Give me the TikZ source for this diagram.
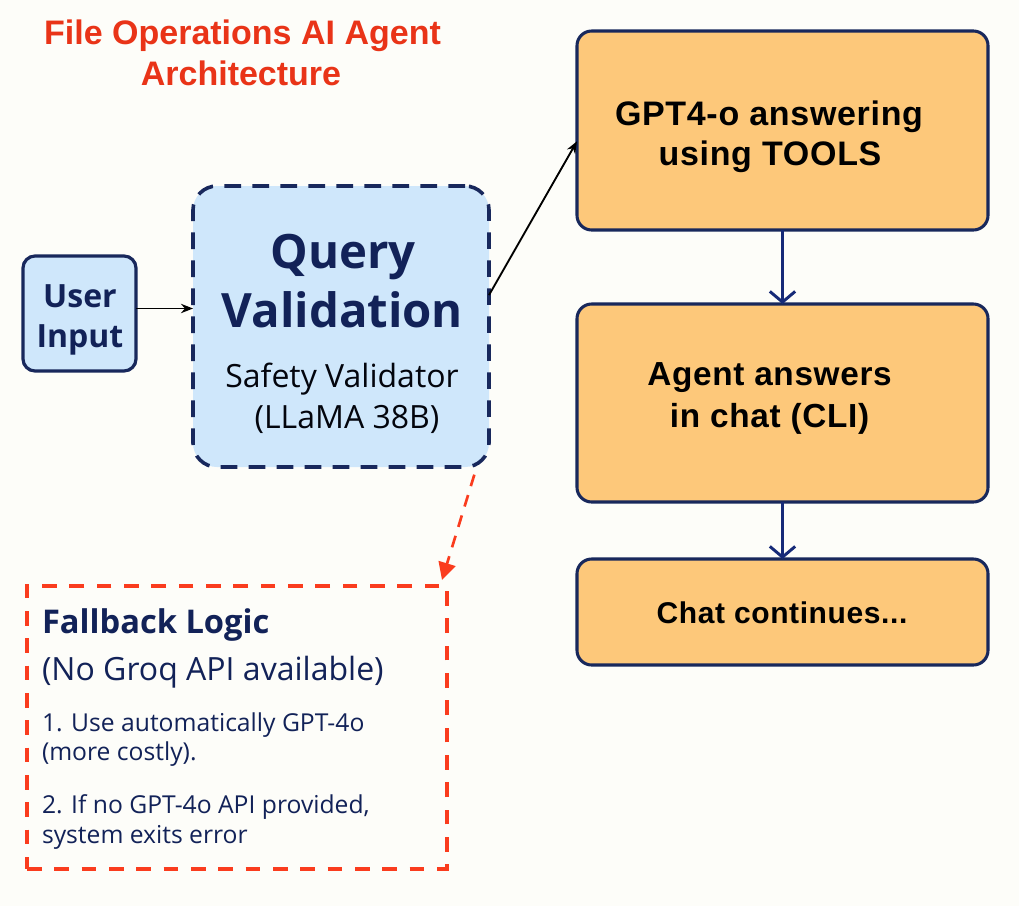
\documentclass[tikz,border=0pt]{standalone}
\usepackage{fontspec}
\setmainfont{Open Sans}
\newfontfamily\arialfont{Liberation Sans}
\newfontfamily\boxfont[LetterSpace=2]{Liberation Sans}
\usetikzlibrary{arrows.meta}
\definecolor{bgc}{RGB}{253,253,249}
\definecolor{navy}{RGB}{18,34,88}
\definecolor{navyline}{RGB}{24,40,92}
\definecolor{lblue}{RGB}{207,231,251}
\definecolor{orng}{RGB}{253,200,122}
\definecolor{ttlred}{RGB}{233,52,24}
\definecolor{dred}{RGB}{250,60,30}
\definecolor{arrblue}{RGB}{22,42,120}
\begin{document}
\begin{tikzpicture}[x=0.75pt,y=-0.75pt,
  every node/.style={inner sep=0pt,outer sep=0pt},
  ubox/.style={draw=navyline,line width=2.4pt,fill=lblue,rounded corners=9pt,minimum width=84.75pt,minimum height=86.25pt},
  qbox/.style={draw=navyline,line width=2.7pt,fill=lblue,rounded corners=18pt,dash pattern=on 12.5pt off 8.5pt,minimum width=222pt,minimum height=210.75pt},
  obox/.style={draw=navyline,line width=2.3pt,fill=orng,rounded corners=11pt,minimum width=308.25pt},
  fbox/.style={draw=dred,line width=2.3pt,dash pattern=on 11pt off 9.5pt,minimum width=315pt,minimum height=212.25pt},
  ttl/.style={anchor=base,text=ttlred,font=\arialfont\bfseries\fontsize{25.5}{30}\selectfont},
  otxt/.style={anchor=base,text=black,font=\boxfont\bfseries\fontsize{25.5}{30}\selectfont},
  ntxt/.style={anchor=base,text=navy},
  ftxt/.style={anchor=base west,text=navy},
  blk/.style={-{Stealth[length=9pt,width=7pt]},line width=1.4pt,black},
  darr/.style={-{Straight Barb[length=8pt,width=19pt,line width=2.2pt]},line width=2.2pt,arrblue},
  rarr/.style={-{Triangle[length=13pt,width=13pt]},line width=2pt,dred,dash pattern=on 9pt off 7pt}
]
\fill[bgc] (0,0) rectangle (1019,906);
\useasboundingbox (0,0) rectangle (1019,906);

% title
\node[ttl] (t1) at (242.5,45) {File Operations AI Agent};
\node[ttl] (t2) at (241,85) {Architecture};

% boxes
\node[ubox] (user) at (79.5,313.5) {};
\node[qbox] (qv) at (341,326.5) {};
\node[obox,minimum height=149.25pt] (gpt) at (782.5,130.5) {};
\node[obox,minimum height=148.5pt] (agent) at (782.5,403) {};
\node[obox,minimum height=79.5pt] (chat) at (782.5,612) {};
\node[fbox] (fb) at (237,727.5) {};

% user text
\node[ntxt,font=\bfseries\fontsize{24}{28}\selectfont] (u1) at (80,307) {User};
\node[ntxt,font=\bfseries\fontsize{24}{28}\selectfont] (u2) at (80,347) {Input};

% query validation text
\node[ntxt,font=\bfseries\fontsize{35.5}{42}\selectfont] (q1) at (343,268) {Query};
\node[ntxt,font=\bfseries\fontsize{35.5}{42}\selectfont] (q2) at (342.5,327) {Validation};
\node[ntxt,font=\fontsize{24}{28}\selectfont,text=black!85!navy] (q3) at (342,387) {Safety Validator};
\node[ntxt,font=\fontsize{24}{28}\selectfont,text=black!85!navy] (q4) at (347,428) {(LLaMA 38B)};

% orange texts
\node[otxt] (g1) at (769,125) {GPT4-o answering};
\node[otxt] (g2) at (770,165) {using TOOLS};
\node[otxt,font=\boxfont\bfseries\fontsize{25}{30}\selectfont] (a1) at (769.5,385.5) {Agent answers};
\node[otxt,font=\boxfont\bfseries\fontsize{25}{30}\selectfont] (a2) at (769.5,427.5) {in chat (CLI)};
\node[otxt,font=\boxfont\bfseries\fontsize{22.5}{27}\selectfont] (c1) at (782,623) {Chat continues...};

% fallback text
\node[ftxt,font=\bfseries\fontsize{24.5}{30}\selectfont] (f1) at (42,633) {Fallback Logic};
\node[ftxt,font=\fontsize{24}{28}\selectfont] (f2) at (42,680) {(No Groq API available)};
\node[ftxt,font=\fontsize{18.5}{22}\selectfont] (f3) at (42,731) {1. Use automatically GPT-4o};
\node[ftxt,font=\fontsize{18.5}{22}\selectfont] (f4) at (42,760) {(more costly).};
\node[ftxt,font=\fontsize{18.5}{22}\selectfont] (f5) at (42,813) {2. If no GPT-4o API provided,};
\node[ftxt,font=\fontsize{18.5}{22}\selectfont] (f6) at (42,843) {system exits error};

% connectors
\draw[blk] ([yshift=3.75pt]user.east) -- ([yshift=3.75pt]user.east -| qv.west);
\draw[blk] (qv.12) -- (gpt.183.5);
\draw[darr] (gpt.south) -- (agent.north);
\draw[darr] (agent.south) -- (chat.north);
\coordinate (fbtip) at ([shift={(-5,-6)}]fb.north east);
\draw[rarr,shorten <=6pt] (qv.-46) -- (fbtip);
\end{tikzpicture}
\end{document}
